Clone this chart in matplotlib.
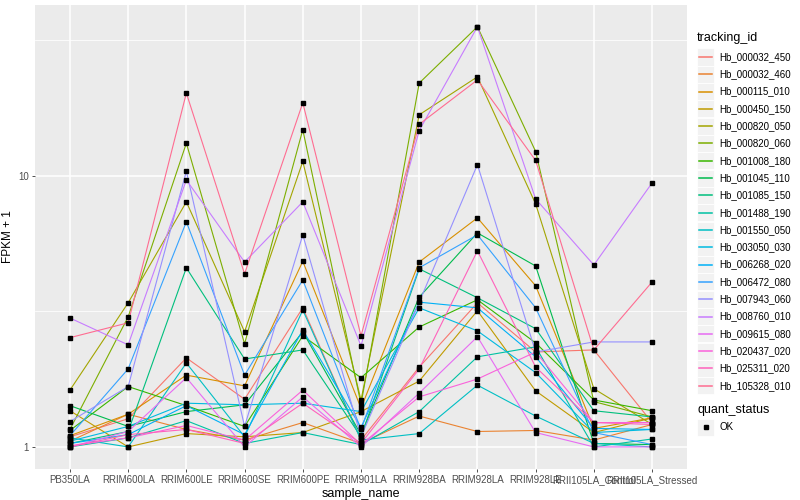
import numpy as np
import matplotlib
matplotlib.use("Agg")
import matplotlib.pyplot as plt
from matplotlib.patches import Rectangle
from matplotlib.lines import Line2D

plt.rcParams['font.family'] = ['Liberation Sans', 'DejaVu Sans']

samples = ['PB350LA', 'RRIM600LA', 'RRIM600LE', 'RRIM600SE', 'RRIM600PE', 'RRIM901LA',
           'RRIM928BA', 'RRIM928LA', 'RRIM928LE', 'RRII105LA_Control', 'RRII105LA_Stressed']

tracking_ids = ['Hb_000032_450', 'Hb_000032_460', 'Hb_000115_010', 'Hb_000450_150',
                'Hb_000820_050', 'Hb_000820_060', 'Hb_001008_180', 'Hb_001045_110',
                'Hb_001085_150', 'Hb_001488_190', 'Hb_001550_050', 'Hb_003050_030',
                'Hb_006268_020', 'Hb_006472_080', 'Hb_007943_060', 'Hb_008760_010',
                'Hb_009615_080', 'Hb_020437_020', 'Hb_025311_020', 'Hb_105328_010']

# FPKM + 1 per gene, one value per sample
Hb_000032_450 = [1.09, 1.27, 2.13, 1.50, 3.26, 1.06, 1.97, 3.40, 2.24, 2.28, 1.23]
Hb_000032_460 = [1.05, 1.32, 1.16, 1.06, 1.23, 1.03, 1.30, 1.14, 1.15, 1.06, 1.21]
Hb_000115_010 = [1.10, 1.32, 1.84, 1.68, 4.84, 1.39, 4.81, 7.00, 3.93, 1.17, 1.28]
Hb_000450_150 = [1.36, 1.00, 1.12, 1.09, 1.13, 1.35, 1.75, 3.18, 1.61, 1.13, 1.28]
Hb_000820_050 = [1.62, 3.40, 8.02, 2.66, 11.3, 1.49, 16.8, 23.2, 7.88, 1.64, 1.21]
Hb_000820_060 = [1.16, 3.02, 13.2, 2.40, 14.8, 1.44, 22.0, 35.5, 12.3, 1.47, 1.29]
Hb_001008_180 = [1.15, 1.67, 1.42, 1.19, 2.57, 1.80, 2.77, 3.49, 2.42, 1.49, 1.36]
Hb_001045_110 = [1.42, 1.19, 1.35, 1.43, 2.66, 1.11, 3.57, 6.16, 4.65, 1.03, 1.02]
Hb_001085_150 = [1.03, 1.14, 4.58, 2.11, 2.28, 1.09, 4.54, 3.55, 2.73, 1.36, 1.29]
Hb_001488_190 = [1.00, 1.08, 1.25, 1.03, 1.13, 1.02, 1.35, 2.15, 2.34, 1.00, 1.07]
Hb_001550_050 = [1.08, 1.00, 2.04, 1.09, 3.20, 1.06, 1.12, 1.69, 1.30, 1.03, 1.00]
Hb_003050_030 = [1.05, 1.19, 1.45, 1.43, 1.45, 1.35, 3.26, 2.68, 1.88, 1.13, 1.16]
Hb_006268_020 = [1.03, 1.11, 1.42, 1.11, 2.70, 1.18, 3.42, 3.26, 2.15, 1.17, 1.16]
Hb_006472_080 = [1.10, 1.94, 6.77, 1.84, 4.13, 1.16, 4.58, 6.06, 3.26, 1.13, 1.02]
Hb_007943_060 = [1.24, 1.67, 10.4, 1.19, 6.06, 1.09, 3.42, 11.0, 2.24, 2.44, 2.44]
Hb_008760_010 = [2.99, 2.38, 9.66, 4.81, 8.02, 2.36, 14.7, 35.5, 8.22, 4.69, 9.42]
Hb_009615_080 = [1.00, 1.14, 1.80, 1.00, 1.53, 1.00, 1.58, 2.55, 1.13, 1.00, 1.00]
Hb_020437_020 = [1.01, 1.08, 1.20, 1.06, 1.62, 1.02, 1.53, 1.78, 2.24, 1.23, 1.23]
Hb_025311_020 = [1.00, 1.11, 1.16, 1.03, 1.45, 1.03, 1.94, 5.29, 1.97, 1.23, 1.21]
Hb_105328_010 = [2.53, 2.87, 20.2, 4.35, 18.6, 2.57, 15.5, 22.6, 11.4, 2.28, 4.06]

series = [Hb_000032_450, Hb_000032_460, Hb_000115_010, Hb_000450_150, Hb_000820_050,
          Hb_000820_060, Hb_001008_180, Hb_001045_110, Hb_001085_150, Hb_001488_190,
          Hb_001550_050, Hb_003050_030, Hb_006268_020, Hb_006472_080, Hb_007943_060,
          Hb_008760_010, Hb_009615_080, Hb_020437_020, Hb_025311_020, Hb_105328_010]

# ggplot2 default hue palette for 20 levels
colors = ['#F8766D', '#EA8331', '#D89000', '#C09B00', '#A3A500', '#7CAE00', '#39B600',
          '#00BB4E', '#00BF7D', '#00C1A3', '#00BFC4', '#00BAE0', '#00B0F6', '#35A2FF',
          '#9590FF', '#C77CFF', '#E76BF3', '#FA62DB', '#FF62BC', '#FF6C91']

W, H = 800, 500
fig = plt.figure(figsize=(8, 5), dpi=100)
ax = fig.add_axes([35 / W, 1 - 469 / H, (687 - 35) / W, (469 - 5) / H])
ax.set_facecolor('#EBEBEB')

x = np.arange(len(samples))
for vals, c in zip(series, colors):
    ax.plot(x, vals, color=c, lw=0.8, zorder=3)
for vals in series:
    ax.plot(x, vals, 's', color='black', ms=2.8, zorder=4, lw=0)

ax.set_yscale('log')
ax.set_ylim(0.829, 42.7)
ax.set_xlim(-0.6, len(samples) - 0.4)
ax.set_yticks([1, 10])
ax.set_yticklabels(['1', '10'])
ax.yaxis.set_minor_locator(matplotlib.ticker.FixedLocator([10 ** 0.5, 10 ** 1.5]))
ax.yaxis.set_minor_formatter(matplotlib.ticker.NullFormatter())
ax.set_xticks(x)
ax.set_xticklabels(samples)

ax.grid(True, which='major', color='white', lw=1.1, zorder=0)
ax.grid(True, which='minor', axis='y', color='white', lw=0.55, zorder=0)
ax.set_axisbelow(True)
for s in ax.spines.values():
    s.set_visible(False)
ax.tick_params(axis='both', which='major', length=2.5, width=0.6, color='#333333',
               labelsize=7, labelcolor='#4D4D4D', pad=2)
ax.tick_params(axis='y', which='minor', length=0)
ax.set_xlabel('sample_name', fontsize=9, labelpad=2)
ax.set_ylabel('FPKM + 1', fontsize=8.5, labelpad=3)

# legends in ggplot style
def fy(py):
    return 1 - py / H

fig.text(697 / W, fy(38), 'tracking_id', fontsize=9, va='center', ha='left')
for i, (tid, c) in enumerate(zip(tracking_ids, colors)):
    yc = 57 + 17.3 * i
    fig.patches.append(Rectangle((697 / W, fy(yc + 8.5)), 17 / W, 17 / H,
                                 transform=fig.transFigure, facecolor='#F2F2F2',
                                 edgecolor='white', lw=0.6))
    fig.lines.append(Line2D([699 / W, 712 / W], [fy(yc), fy(yc)], transform=fig.transFigure,
                            color=c, lw=1.1))
    fig.text(719 / W, fy(yc), tid, fontsize=7, va='center', ha='left')

fig.text(697 / W, fy(410), 'quant_status', fontsize=9, va='center', ha='left')
fig.patches.append(Rectangle((697 / W, fy(427 + 8.5)), 17 / W, 17 / H,
                             transform=fig.transFigure, facecolor='#F2F2F2',
                             edgecolor='white', lw=0.6))
fig.lines.append(Line2D([705.5 / W], [fy(427)], transform=fig.transFigure, marker='s',
                        color='black', ms=2.8, lw=0))
fig.text(719 / W, fy(427), 'OK', fontsize=7, va='center', ha='left')

fig.savefig('out.png', dpi=100)
